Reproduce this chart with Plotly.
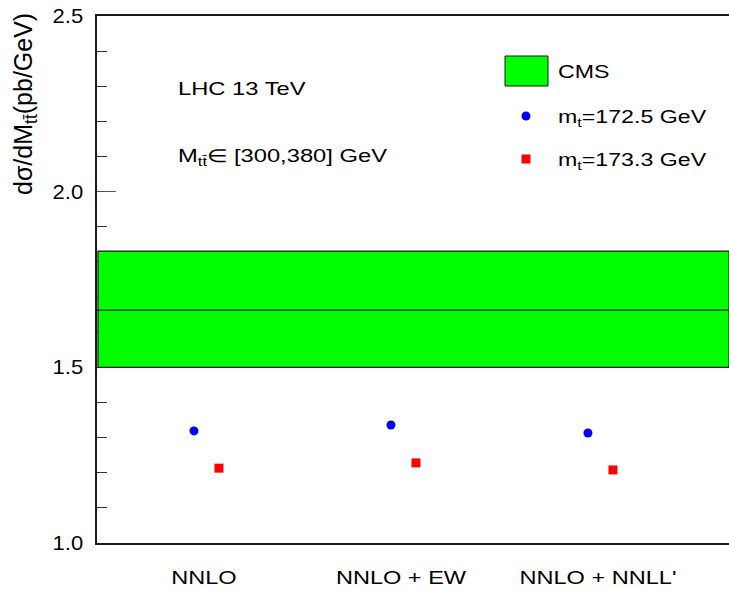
import plotly.graph_objects as go

categories = ["NNLO", "NNLO + EW", "NNLO + NNLL'"]
xsec_mt1725 = [1.319, 1.336, 1.313]
xsec_mt1733 = [1.213, 1.228, 1.208]
cms_low = 1.500
cms_central = 1.663
cms_high = 1.831
y_ticks = [1.0, 1.5, 2.0, 2.5]

FONT = "Liberation Sans, Arial, sans-serif"
cat_pos = [1, 2, 3]
off_blue = -0.051
off_red = 0.076

fig = go.Figure()

fig.add_trace(go.Scatter(x=[p + off_blue for p in cat_pos], y=xsec_mt1725, mode="markers",
                         marker=dict(symbol="circle", size=9, color="#0000ff"),
                         showlegend=False))
fig.add_trace(go.Scatter(x=[p + off_red for p in cat_pos], y=xsec_mt1733, mode="markers",
                         marker=dict(symbol="square", size=9, color="#ff0000"),
                         showlegend=False))

# CMS band (drawn above axes so that ticks are hidden, like the reference)
fig.add_shape(type="rect", xref="paper", yref="y", x0=0.0015, x1=1, y0=cms_low, y1=cms_high,
              fillcolor="#00ff00", line=dict(color="#1a1a1a", width=1.2), layer="above")
fig.add_shape(type="line", xref="paper", yref="y", x0=0, x1=1, y0=cms_central, y1=cms_central,
              line=dict(color="#1a1a1a", width=1.2), layer="above")

# legend-like decoration (paper coords)
def py(pix):
    return (543 - pix) / 527.0
def px(pix):
    return (pix - 97) / 632.0

fig.add_shape(type="rect", xref="paper", yref="paper", x0=px(505), x1=px(548), y0=py(86), y1=py(56),
              fillcolor="#00ff00", line=dict(color="#1a1a1a", width=1))
fig.add_shape(type="circle", xref="paper", yref="paper", x0=px(521.5), x1=px(530.5), y0=py(120.5), y1=py(111.5),
              fillcolor="#0000ff", line=dict(color="#0000ff", width=0))
fig.add_shape(type="rect", xref="paper", yref="paper", x0=px(521.5), x1=px(530.5), y0=py(163.5), y1=py(154.5),
              fillcolor="#ff0000", line=dict(color="#ff0000", width=0))

ann_font = dict(family=FONT, size=19, color="black")
fig.add_annotation(xref="paper", yref="paper", x=px(556), y=py(72), text="CMS", showarrow=False,
                   xanchor="left", yanchor="middle", align="left", font=ann_font)
fig.add_annotation(xref="paper", yref="paper", x=px(556), y=py(118),
                   text="m<sub>t</sub>=172.5 GeV", showarrow=False,
                   xanchor="left", yanchor="middle", align="left", font=ann_font)
fig.add_annotation(xref="paper", yref="paper", x=px(556), y=py(161),
                   text="m<sub>t</sub>=173.3 GeV", showarrow=False,
                   xanchor="left", yanchor="middle", align="left", font=ann_font)

fig.add_annotation(xref="paper", yref="paper", x=px(176), y=py(89), text="LHC 13 TeV", showarrow=False,
                   xanchor="left", yanchor="middle", align="left",
                   font=dict(family=FONT, size=18, color="black"))
fig.add_annotation(xref="paper", yref="paper", x=px(176), y=py(157),
                   text="M<sub>tt̄</sub>∈ [300,380] GeV", showarrow=False,
                   xanchor="left", yanchor="middle", align="left",
                   font=dict(family=FONT, size=18, color="black"))

# y title
fig.add_annotation(xref="paper", yref="paper", x=0, xshift=-72, y=py(104), text="dσ/dM<sub>tt̄</sub>(pb/GeV)",
                   textangle=-90, showarrow=False, xanchor="center", yanchor="middle",
                   font=dict(family=FONT, size=25, color="black"))

fig.update_layout(
    width=729, height=590,
    margin=dict(l=97, r=0, t=16, b=47),
    paper_bgcolor="white", plot_bgcolor="white",
    showlegend=False,
    font=dict(family=FONT, size=19, color="black"),
    xaxis=dict(range=[0.457, 3.665], tickmode="array", tickvals=cat_pos, ticktext=categories,
               showgrid=False, zeroline=False, showline=True, linecolor="#1a1a1a", linewidth=1.6,
               mirror=True, ticks="", ticklabelstandoff=16, tickfont=dict(family=FONT, size=19)),
    yaxis=dict(range=[1.0, 2.5], tickmode="array", tickvals=y_ticks,
               ticktext=[f"{v:.1f}" for v in y_ticks],
               showgrid=False, zeroline=False, showline=True, linecolor="#1a1a1a", linewidth=1.6,
               ticks="inside", ticklen=19, tickcolor="#555555", tickwidth=1,
               minor=dict(ticks="inside", ticklen=10, dtick=0.1, tickcolor="#333333", tickwidth=1),
               ticklabelstandoff=8, tickfont=dict(family=FONT, size=20)),
)

post = """
document.body.style.margin = '0';
var gd = document.getElementById('{plot_id}');
function stretch(el, s, mode) {
  var b = el.getBBox();
  var ox = mode === 'left' ? b.x : (mode === 'right' ? b.x + b.width : b.x + b.width / 2);
  var t = el.getAttribute('transform') || '';
  el.setAttribute('transform', t + ' translate(' + ox + ',0) scale(' + s + ',1) translate(' + (-ox) + ',0)');
}
gd.querySelectorAll('.annotation-text').forEach(function(el) {
  var t = el.textContent || '';
  if (t.indexOf('pb/GeV') >= 0) { return; }
  var s = 1.22;
  if (t.indexOf('LHC') >= 0 || t.indexOf('300') >= 0) { s = 1.32; }
  stretch(el, s, 'left');
});
gd.querySelectorAll('.xtick text').forEach(function(el) { stretch(el, 1.24, 'center'); });
gd.querySelectorAll('.ytick text').forEach(function(el) { stretch(el, 1.1, 'right'); });
"""

fig.write_html("out.html", post_script=post, config={"displayModeBar": False})
